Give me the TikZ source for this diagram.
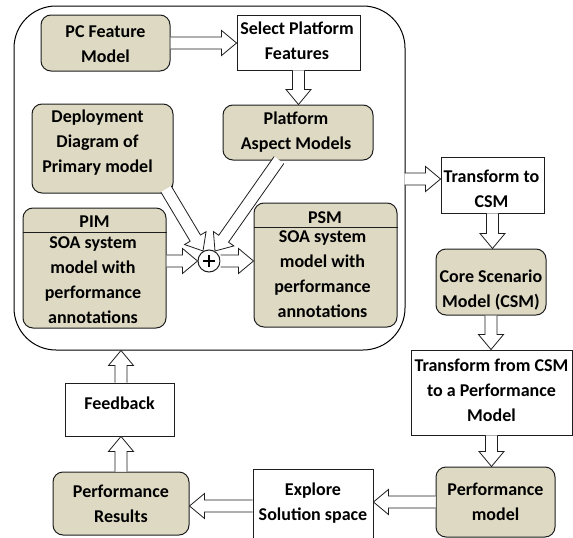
\documentclass[tikz,border=0pt]{standalone}
\usepackage{fontspec}
\setmainfont{Carlito}
\usetikzlibrary{calc}
\definecolor{tanfill}{RGB}{221,217,195}
\definecolor{edge}{RGB}{30,30,30}
\tikzset{
  tanbox/.style={draw=edge, line width=1pt, fill=tanfill, rounded corners=10pt, inner sep=0pt},
  whitebox/.style={draw=edge, line width=0.9pt, fill=white, inner sep=0pt},
  bigbox/.style={draw=black, line width=1pt, rounded corners=42pt, inner sep=0pt},
  txt/.style={font=\fontsize{18}{25}\selectfont\bfseries, align=center, inner sep=0pt},
  arrstyle/.style={draw=edge, line width=0.8pt, fill=white, line join=miter},
}
\newcommand\barrow[2]{%
  \draw[arrstyle] let \p1=(#1), \p2=(#2),
    \n1={veclen(\x2-\x1,\y2-\y1)},
    \n2={(\x2-\x1)/\n1}, \n3={(\y2-\y1)/\n1}, \n4={\n1-15} in
    ({\x1-6*\n3},{\y1+6*\n2}) --
    ({\x1+\n4*\n2-6*\n3},{\y1+\n4*\n3+6*\n2}) --
    ({\x1+\n4*\n2-12.5*\n3},{\y1+\n4*\n3+12.5*\n2}) --
    (\x2,\y2) --
    ({\x1+\n4*\n2+12.5*\n3},{\y1+\n4*\n3-12.5*\n2}) --
    ({\x1+\n4*\n2+6*\n3},{\y1+\n4*\n3-6*\n2}) --
    ({\x1+6*\n3},{\y1-6*\n2});
}
\begin{document}
\begin{tikzpicture}[x=1pt,y=-1pt]
\useasboundingbox (0,0) rectangle (573,538);
\clip (0,0) rectangle (573,538);

% big container
\node[bigbox, minimum width=391pt, minimum height=344pt] (big) at (209.5,178) {};

% boxes
\node[tanbox, minimum width=129pt, minimum height=56pt] (pc) at (105.5,43) {};
\node[txt] (pct) at (105.5,44) {PC Feature\\Model};

\node[whitebox, minimum width=123pt, minimum height=55pt] (sel) at (298.5,42.5) {};
\node[txt] (selt) at (297,40.5) {Select Platform\\Features};

\node[tanbox, minimum width=150pt, minimum height=55pt] (pam) at (298,132.5) {};
\node[txt] (pamt) at (296,132.5) {Platform\\Aspect Models};

\node[tanbox, minimum width=141pt, minimum height=89pt] (dep) at (102.5,148.5) {};
\node[txt] (dept) at (97.5,143) {Deployment\\Diagram of\\Primary model};

\node[tanbox, minimum width=143pt, minimum height=120pt] (pim) at (94.5,268) {};
\draw[draw=edge, line width=1pt] (pim.west |- 0,232) -- (pim.east |- 0,232);
\node[txt] (pimh) at (94.5,221.5) {PIM};
\node[txt] (pimt) at (93,280.5) {SOA system\\model with\\performance\\annotations};

\node[tanbox, minimum width=143pt, minimum height=124pt] (psm) at (325.5,265) {};
\draw[draw=edge, line width=1pt] (psm.west |- 0,227) -- (psm.east |- 0,227);
\node[txt] (psmh) at (325,217.5) {PSM};
\node[txt] (psmt) at (322.5,274.5) {SOA system\\model with\\performance\\annotations};

\node[circle, draw=edge, line width=1pt, fill=white, minimum size=22pt, inner sep=0pt] (plus) at (209,261) {};
\draw[line width=2.4pt] ($(plus.center)+(-6,0)$) -- ($(plus.center)+(6,0)$);
\draw[line width=2.4pt] ($(plus.center)+(0,-6)$) -- ($(plus.center)+(0,6)$);

\node[whitebox, minimum width=103pt, minimum height=56pt] (t2c) at (492.5,185) {};
\node[txt] (t2ct) at (491.5,188.5) {Transform to\\CSM};

\node[tanbox, minimum width=110pt, minimum height=66pt] (core) at (491,282) {};
\node[txt] (coret) at (491,290) {Core Scenario\\Model (CSM)};

\node[whitebox, minimum width=161pt, minimum height=85pt] (tfc) at (491.5,392.5) {};
\node[txt] (tfct) at (491.5,390) {Transform from CSM\\to a Performance\\Model};

\node[tanbox, minimum width=119pt, minimum height=70pt] (pm) at (495.5,502) {};
\node[txt] (pmt) at (495.5,501.5) {Performance\\model};

\node[whitebox, minimum width=120pt, minimum height=74pt] (ex) at (313,506) {};
\node[txt] (ext) at (313,503) {Explore\\Solution space};

\node[tanbox, minimum width=136pt, minimum height=63pt] (pr) at (121,503.5) {};
\node[txt] (prt) at (121,504) {Performance\\Results};

\node[whitebox, minimum width=109pt, minimum height=53pt] (fb) at (119.5,409.5) {};
\node[txt] (fbt) at (119.5,403) {Feedback};

% connectors
\barrow{pc.east}{pc.east -| sel.west}
\barrow{sel.south}{sel.south |- pam.north}
\barrow{166,189}{$(plus.center)+(-6,-10)$}
\barrow{279,160}{$(plus.center)+(6,-10)$}
\barrow{pim.east |- plus.center}{plus.west}
\barrow{plus.east}{plus.east -| psm.west}
\barrow{$(t2c.west)+(-36,-6)$}{$(t2c.west)+(0,-6)$}
\barrow{t2c.south}{t2c.south |- core.north}
\barrow{core.south}{core.south |- tfc.north}
\barrow{tfc.south}{tfc.south |- pm.north}
\barrow{pm.west}{pm.west -| ex.east}
\barrow{ex.west}{ex.west -| pr.east}
\barrow{pr.north}{pr.north |- fb.south}
\barrow{pr.north |- fb.north}{pr.north |- big.south}
\end{tikzpicture}
\end{document}
